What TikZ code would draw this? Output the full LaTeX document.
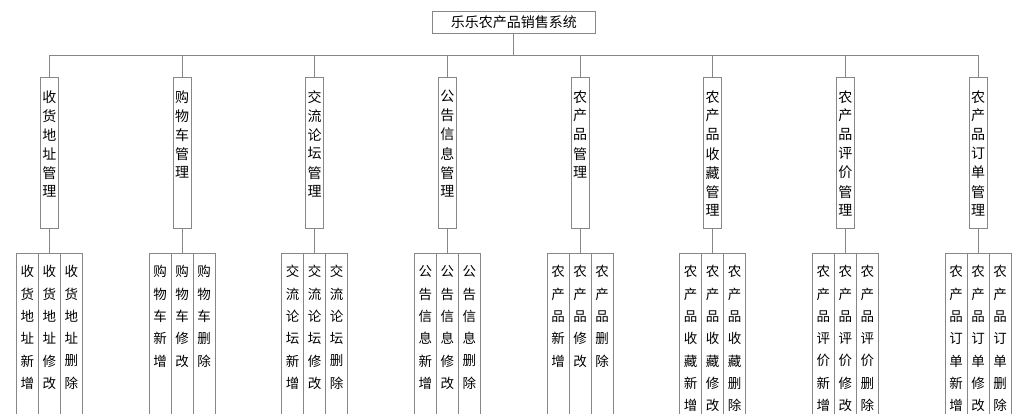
\documentclass[tikz,border=0pt]{standalone}
\usepackage{fontspec}
\setmainfont{Noto Sans CJK SC}
\definecolor{linegray}{RGB}{135,135,135}
\tikzset{
  conn/.style={draw=linegray, line width=1pt},
  rootbox/.style={draw=linegray, line width=1pt, fill=white, minimum width=163pt, minimum height=22pt, inner sep=0pt, font=\fontsize{14}{16}\selectfont},
  lonebox/.style={draw=linegray, line width=1pt, fill=white, minimum width=18pt, minimum height=150.6pt, inner sep=0pt},
  ltwobox/.style={draw=linegray, line width=1pt, fill=white, minimum width=22pt, minimum height=186.7pt, inner sep=0pt},
  chone/.style={inner sep=0pt, font=\fontsize{14}{16}\selectfont},
  chtwo/.style={inner sep=0pt, font=\fontsize{13.5}{16}\selectfont},
}
\newcommand\vstack[6]{% style, name, x, ytop, spacing, list
  \foreach \c [count=\i from 0] in {#6} {
    \node[#1] (#2-\i) at (#3, #4+\i*#5) {\c};
  }
}
\newcommand\branch[3]{% idx, x, prefix list
  \coordinate (b#1) at (#2,55.3);
  \node[lonebox] (m#1) at (#2,153) {};
  \draw[conn] (b#1) -- (m#1.north);
  \vstack{chone}{mt#1}{#2}{96.7}{19}{#3,管,理}
  \coordinate (j#1) at (#2,253.3);
  \draw[conn] (m#1.south) -- (j#1);
  \node[ltwobox] (s#1a) at (#2-22,346.7) {};
  \node[ltwobox] (s#1b) at (#2,346.7) {};
  \node[ltwobox] (s#1c) at (#2+22,346.7) {};
  \vstack{chtwo}{sta#1}{#2-22}{271.7}{22.3}{#3,新,增}
  \vstack{chtwo}{stb#1}{#2}{271.7}{22.3}{#3,修,改}
  \vstack{chtwo}{stc#1}{#2+22}{271.7}{22.3}{#3,删,除}
}
\begin{document}
\begin{tikzpicture}[x=1pt,y=-1pt]
\clip (0,0) rectangle (1014,414);
\fill[white] (0,0) rectangle (1014,414);
\node[rootbox] (root) at (513.8,22.3) {乐乐农产品销售系统};
\coordinate (rj) at (513.8,55.3);
\draw[conn] (root.south) -- (rj);
\coordinate (busl) at (49.3,55.3);
\coordinate (busr) at (978,55.3);
\draw[conn] (busl) -- (busr);
\branch{1}{49.3}{收,货,地,址}
\branch{2}{182}{购,物,车}
\branch{3}{314.6}{交,流,论,坛}
\branch{4}{447.3}{公,告,信,息}
\branch{5}{580}{农,产,品}
\branch{6}{712.7}{农,产,品,收,藏}
\branch{7}{845.3}{农,产,品,评,价}
\branch{8}{978}{农,产,品,订,单}
\end{tikzpicture}
\end{document}
